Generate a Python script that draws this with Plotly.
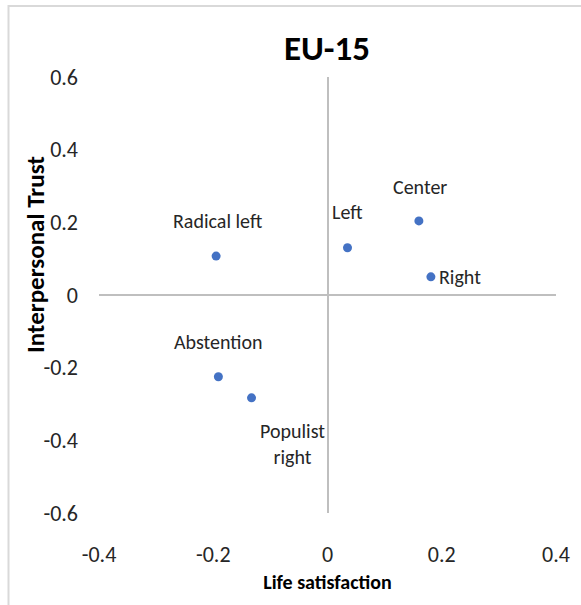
import plotly.graph_objects as go

# Party-family groups: life satisfaction vs. interpersonal trust (EU-15)
groups = ["Radical left", "Left", "Center", "Right", "Abstention", "Populist<br>right"]
life_satisfaction = [-0.195, 0.035, 0.160, 0.181, -0.191, -0.133]
interpersonal_trust = [0.107, 0.130, 0.204, 0.050, -0.225, -0.283]

x_ticks = [-0.4, -0.2, 0, 0.2, 0.4]
y_ticks = [-0.6, -0.4, -0.2, 0, 0.2, 0.4, 0.6]

# label placement (pixel offsets from each point): (xshift, yshift, xanchor)
label_offsets = [(1, 35, "center"), (0, 36, "center"), (1, 34, "center"),
                 (6, 0, "left"), (0, 35, "center"), (41, -46, "center")]

FONT = "Carlito, Lato, sans-serif"
W, H = 581, 605
L, R, T, B = 99, 25, 77, 92
PW, PH = W - L - R, H - T - B

fig = go.Figure()
fig.add_trace(go.Scatter(
    x=life_satisfaction, y=interpersonal_trust, mode="markers",
    marker=dict(color="#4472C4", size=9, line=dict(width=0)),
    hoverinfo="skip", showlegend=False,
))

for name, xv, yv, (dx, dy, anc) in zip(groups, life_satisfaction, interpersonal_trust, label_offsets):
    fig.add_annotation(
        x=xv, y=yv, text=name, showarrow=False, xanchor=anc, yanchor="middle",
        xshift=dx, yshift=dy, align="center",
        font=dict(family=FONT, size=20, color="#262626"),
    )

# y-axis title placed as a rotated annotation
fig.add_annotation(
    xref="paper", yref="paper", x=(35 - L) / PW, y=(H - B - 255) / PH,
    text="<b>Interpersonal Trust</b>", textangle=-90, showarrow=False,
    xanchor="center", yanchor="middle",
    font=dict(family=FONT, size=25, color="#000000"),
)

# outer chart frame (top and left edges visible)
fig.add_shape(
    type="rect", xref="paper", yref="paper",
    x0=(8.5 - L) / PW, x1=(W + 20 - L) / PW,
    y0=(H - B - (H + 20)) / PH, y1=(H - B - 6) / PH,
    line=dict(color="#d9d9d9", width=2), fillcolor="rgba(0,0,0,0)", layer="below",
)

fig.update_layout(
    width=W, height=H,
    margin=dict(l=L, r=R, t=T, b=B),
    paper_bgcolor="white", plot_bgcolor="white",
    title=dict(text="<b>EU-15</b>", x=327 / W, xanchor="center",
               y=1 - 48 / H, yanchor="middle",
               font=dict(family=FONT, size=35, color="#000000")),
    xaxis=dict(
        range=[-0.4, 0.4], tickvals=x_ticks, ticktext=[f"{v:g}" for v in x_ticks],
        showgrid=False, showline=False, zeroline=True, zerolinecolor="#bfbfbf",
        zerolinewidth=2, ticks="", ticklabelstandoff=26,
        tickfont=dict(family=FONT, size=22, color="#262626"),
        title=dict(text="<b>Life satisfaction</b>", standoff=7,
                   font=dict(family=FONT, size=20, color="#000000")),
        fixedrange=True,
    ),
    yaxis=dict(
        range=[-0.6, 0.6], tickvals=y_ticks, ticktext=[f"{v:g}" for v in y_ticks],
        showgrid=False, showline=False, zeroline=True, zerolinecolor="#bfbfbf",
        zerolinewidth=2, ticks="", ticklabelstandoff=20,
        tickfont=dict(family=FONT, size=22, color="#262626"),
        fixedrange=True,
    ),
)

fig.write_html("out.html")
